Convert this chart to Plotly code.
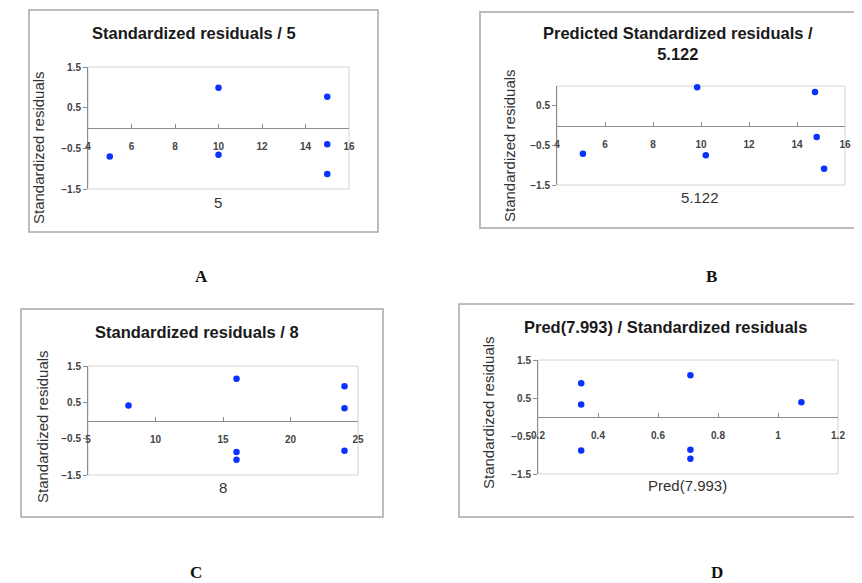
import plotly.graph_objects as go

W, H = 862, 583
OFF = 8  # page body margin compensation

# ---------------- data ----------------
a_x = [5, 10, 10, 15, 15, 15]
a_y = [-0.70, 0.99, -0.66, 0.77, -0.40, -1.13]

b_x = [5.08, 9.84, 10.2, 14.75, 14.82, 15.13]
b_y = [-0.71, 0.97, -0.75, 0.85, -0.29, -1.09]

c_x = [8, 16, 16, 16, 24, 24, 24]
c_y = [0.41, 1.15, -0.87, -1.08, 0.94, 0.34, -0.83]

d_x = [0.344, 0.344, 0.344, 0.708, 0.708, 0.708, 1.078]
d_y = [0.89, 0.33, -0.88, 1.10, -0.86, -1.10, 0.39]

a_xticks = [4, 6, 8, 10, 12, 14, 16]
c_xticks = [5, 10, 15, 20, 25]
d_xticks = [0.2, 0.4, 0.6, 0.8, 1.0, 1.2]
d_xticktext = ["0.2", "0.4", "0.6", "0.8", "1", "1.2"]
y_ticks = [-1.5, -0.5, 0.5, 1.5]
y_ticks_b = [-1.5, -0.5, 0.5]

titles = ["Standardized residuals / 5",
          "Predicted Standardized residuals /<br>5.122",
          "Standardized residuals / 8",
          "Pred(7.993) / Standardized residuals"]
x_titles = ["5", "5.122", "8", "Pred(7.993)"]
y_title = "Standardized residuals"
panel_labels = ["A", "B", "C", "D"]

# ---------------- layout helpers ----------------
def px(x):
    return (x - OFF) / W

def py(y):
    return 1 - (y - OFF) / H

BLUE = "#0a32ff"
AXIS = "#8c8c8c"
BOX = "#d4d4d4"
FRAME = "#a8a8a8"
FONT = "Liberation Sans, Arial, sans-serif"

panels = [
    dict(x0=88, x1=349, yt=67, yb=189, xr=[4, 16], yr=[-1.5, 1.5], xt=a_xticks, xtt=None, yt_vals=y_ticks,
         xs=a_x, ys=a_y),
    dict(x0=557, x1=845, yt=86, yb=185, xr=[4, 16], yr=[-1.5, 1.0], xt=a_xticks, xtt=None, yt_vals=y_ticks_b,
         xs=b_x, ys=b_y),
    dict(x0=88, x1=358, yt=366, yb=475, xr=[5, 25], yr=[-1.5, 1.5], xt=c_xticks, xtt=None, yt_vals=y_ticks,
         xs=c_x, ys=c_y),
    dict(x0=538, x1=838, yt=360, yb=474, xr=[0.2, 1.2], yr=[-1.5, 1.5], xt=d_xticks, xtt=d_xticktext,
         yt_vals=y_ticks, xs=d_x, ys=d_y),
]

fig = go.Figure()
layout = dict(width=W, height=H, margin=dict(l=0, r=0, t=0, b=0, autoexpand=False),
              paper_bgcolor="white", plot_bgcolor="white", showlegend=False,
              font=dict(family=FONT, color="#222"))
shapes = []
annotations = []
TICKFONT = dict(size=10, color="#444", family=FONT, weight="bold")

for i, p in enumerate(panels):
    n = "" if i == 0 else str(i + 1)
    xa, ya = "x" + n, "y" + n
    fig.add_trace(go.Scatter(x=p["xs"], y=p["ys"], mode="markers", xaxis=xa, yaxis=ya,
                             marker=dict(color=BLUE, size=6.5), cliponaxis=False))
    ydom = [py(p["yb"]), py(p["yt"])]
    frac0 = (0 - p["yr"][0]) / (p["yr"][1] - p["yr"][0])
    pos0 = ydom[0] + frac0 * (ydom[1] - ydom[0])
    xax = dict(domain=[px(p["x0"]), px(p["x1"])], range=p["xr"], anchor="free", position=pos0,
               showline=True, linecolor=AXIS, linewidth=1, ticks="inside", ticklen=4, tickcolor=AXIS,
               showgrid=False, zeroline=False, tickvals=p["xt"], tickfont=TICKFONT,
               ticklabelstandoff=9, automargin=False)
    if p["xtt"]:
        xax["ticktext"] = p["xtt"]
    yax = dict(domain=ydom, range=p["yr"], anchor=xa, showline=True, linecolor=AXIS, linewidth=1,
               ticks="outside", ticklen=4, tickcolor=AXIS, showgrid=False, zeroline=False,
               tickvals=p["yt_vals"], tickfont=TICKFONT, automargin=False)
    layout["xaxis" + n] = xax
    layout["yaxis" + n] = yax
    shapes.append(dict(type="rect", xref=xa + " domain", yref=ya + " domain", x0=0, x1=1, y0=0, y1=1,
                       line=dict(color=BOX, width=1), layer="below"))

# chart frames
frames = [(29, 10, 378, 232), (480, 12, 880, 228), (21, 309, 383, 517), (459, 304, 880, 517)]
for (l, t, r, b) in frames:
    shapes.append(dict(type="rect", xref="paper", yref="paper", x0=px(l), x1=px(r), y0=py(b), y1=py(t),
                       line=dict(color=FRAME, width=1.5), layer="below"))

# titles
title_pos = [(194, 33), (678, 43), (197, 332), (665, 327)]
for t, (x, y) in zip(titles, title_pos):
    annotations.append(dict(text="<b>" + t + "</b>", x=px(x), y=py(y), xref="paper", yref="paper",
                            showarrow=False, xanchor="center", yanchor="middle",
                            font=dict(size=16.5, color="#1a1a1a", family=FONT)))
# x-axis titles
xt_pos = [(218, 202), (700, 197), (223, 487), (687, 485)]
for t, (x, y) in zip(x_titles, xt_pos):
    annotations.append(dict(text=t, x=px(x), y=py(y), xref="paper", yref="paper", showarrow=False,
                            xanchor="center", yanchor="middle", font=dict(size=15, color="#333", family=FONT)))
# y-axis titles
yt_pos = [(39, 148), (509, 146), (42, 427), (488, 413)]
for (x, y) in yt_pos:
    annotations.append(dict(text=y_title, x=px(x), y=py(y), xref="paper", yref="paper", showarrow=False,
                            textangle=-90, xanchor="center", yanchor="middle",
                            font=dict(size=15, color="#333", family=FONT)))
# panel labels
lab_pos = [(201, 276), (711, 276), (196, 572), (717, 572)]
for t, (x, y) in zip(panel_labels, lab_pos):
    annotations.append(dict(text="<b>" + t + "</b>", x=px(x), y=py(y), xref="paper", yref="paper",
                            showarrow=False, xanchor="center", yanchor="middle",
                            font=dict(size=17, color="#111", family="Liberation Serif, Times New Roman, serif")))

layout["shapes"] = shapes
layout["annotations"] = annotations
fig.update_layout(**layout)
fig.write_html("out.html")
